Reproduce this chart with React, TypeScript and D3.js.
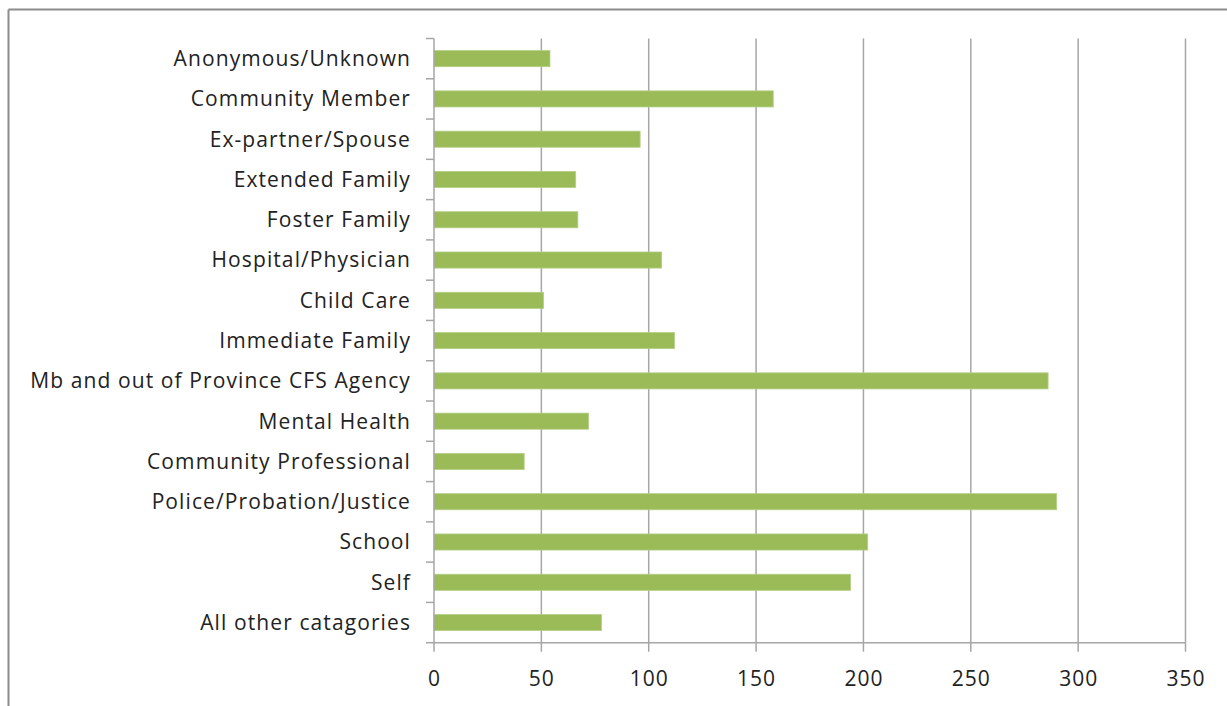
import React from 'react';
import * as d3 from 'd3';

// referral sources, top to bottom
const categories = [
    "Anonymous/Unknown",
    "Community Member",
    "Ex-partner/Spouse",
    "Extended Family",
    "Foster Family",
    "Hospital/Physician",
    "Child Care",
    "Immediate Family",
    "Mb and out of Province CFS Agency",
    "Mental Health",
    "Community Professional",
    "Police/Probation/Justice",
    "School",
    "Self",
    "All other catagories",
];

const counts = [54, 158, 96, 66, 67, 106, 51, 112, 286, 72, 42, 290, 202, 194, 78];

const xTicks = [0, 50, 100, 150, 200, 250, 300, 350];

const width = 1227;
const height = 706;
const left = 434;
const right = 1185.5;
const top = 38.5;
const bottom = 642.7;

export default function App() {
    const x = d3.scaleLinear().domain([0, 350]).range([left, right]);
    const y = d3.scaleBand().domain(categories).range([top, bottom]).paddingInner(0.6).paddingOuter(0.3);
    const band = d3.scaleBand().domain(categories).range([top, bottom]);

    const font = "'Open Sans', sans-serif";
    const grid = "#a6a6a6";

    return (
        <div style={{ position: 'absolute', left: 0, top: 0 }}>
            <svg width={width} height={height} style={{ display: 'block', background: 'white' }}>
                {/* outer frame, only left and top visible */}
                <line x1={8.5} x2={8.5} y1={9.5} y2={height} stroke="#8c8c8c" strokeWidth={2} />
                <line x1={8.5} x2={width} y1={9.5} y2={9.5} stroke="#8c8c8c" strokeWidth={2} />

                {/* vertical gridlines */}
                {xTicks.slice(1).map(t => (
                    <line key={"g" + t} x1={x(t)} x2={x(t)} y1={top} y2={bottom} stroke={grid} strokeWidth={1.5} />
                ))}

                {/* bars */}
                {categories.map((c, i) => (
                    <rect key={c}
                        x={x(0)}
                        y={y(c)}
                        width={x(counts[i]) - x(0)}
                        height={y.bandwidth()}
                        fill="#9bbb59"
                        stroke="#b5cf86"
                        strokeWidth={0.8}
                    />
                ))}

                {/* y axis + ticks at band edges */}
                <line x1={left} x2={left} y1={top} y2={bottom} stroke={grid} strokeWidth={1.5} />
                {categories.map(c => (
                    <line key={"t" + c} x1={left - 8} x2={left} y1={band(c)} y2={band(c)} stroke={grid} strokeWidth={1.5} />
                ))}
                <line x1={left - 8} x2={left} y1={bottom} y2={bottom} stroke={grid} strokeWidth={1.5} />

                {/* x axis */}
                <line x1={left} x2={right} y1={bottom} y2={bottom} stroke={grid} strokeWidth={1.5} />
                {xTicks.map(t => (
                    <line key={"xt" + t} x1={x(t)} x2={x(t)} y1={bottom} y2={bottom + 9} stroke={grid} strokeWidth={1.5} />
                ))}
                {xTicks.map(t => (
                    <text key={"xl" + t} x={x(t) + 0.5} y={686} textAnchor="middle" fontFamily={font} fontSize={21}
                        letterSpacing={1} fill="#222">{t}</text>
                ))}

                {/* category labels */}
                {categories.map(c => (
                    <text key={"l" + c} x={411} y={band(c) + band.bandwidth() / 2} dy="0.35em" textAnchor="end"
                        fontFamily={font} fontSize={21} letterSpacing={1.1} fill="#222">{c}</text>
                ))}
            </svg>
        </div>
    );
}
